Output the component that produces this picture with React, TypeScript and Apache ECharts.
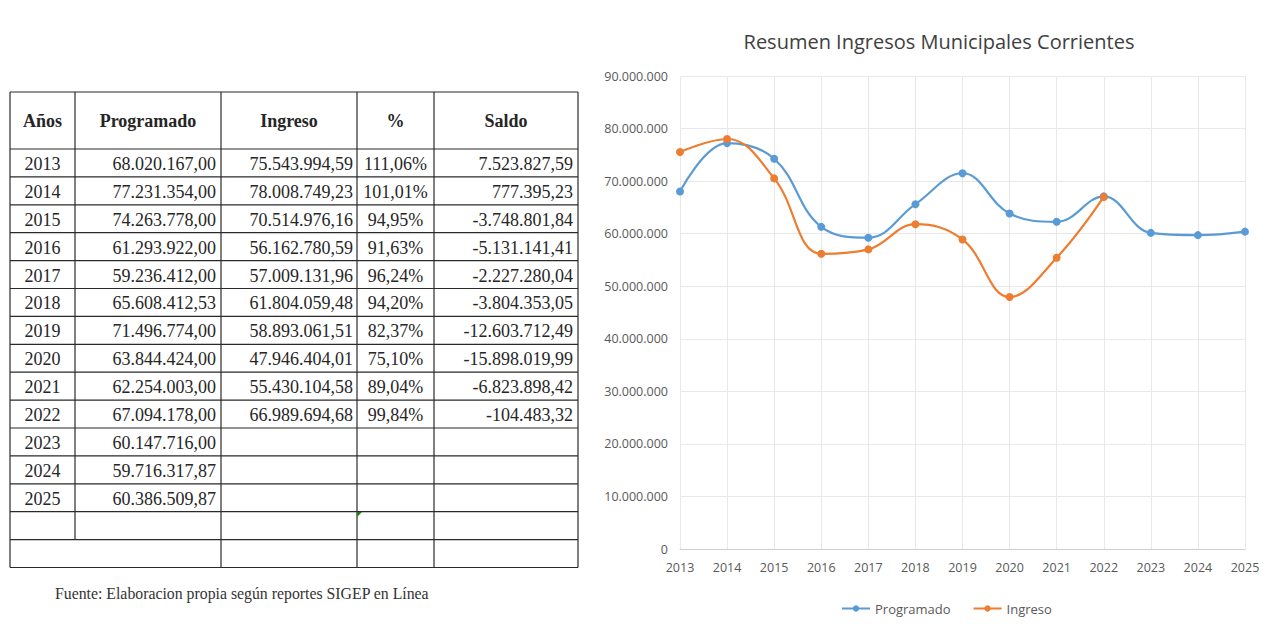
import React, { useEffect, useRef } from "react";
import * as echarts from "echarts";

const years = ["2013", "2014", "2015", "2016", "2017", "2018", "2019", "2020", "2021", "2022", "2023", "2024", "2025"];
const programado = [68020167.0, 77231354.0, 74263778.0, 61293922.0, 59236412.0, 65608412.53, 71496774.0, 63844424.0, 62254003.0, 67094178.0, 60147716.0, 59716317.87, 60386509.87];
const ingreso = [75543994.59, 78008749.23, 70514976.16, 56162780.59, 57009131.96, 61804059.48, 58893061.51, 47946404.01, 55430104.58, 66989694.68, null, null, null];
const pct = [111.06, 101.01, 94.95, 91.63, 96.24, 94.2, 82.37, 75.1, 89.04, 99.84, null, null, null];
const saldo = [7523827.59, 777395.23, -3748801.84, -5131141.41, -2227280.04, -3804353.05, -12603712.49, -15898019.99, -6823898.42, -104483.32, null, null, null];
const headers = ["Años", "Programado", "Ingreso", "%", "Saldo"];
const yTicks = [0, 10000000, 20000000, 30000000, 40000000, 50000000, 60000000, 70000000, 80000000, 90000000];
const chartTitle = "Resumen Ingresos Municipales Corrientes";
const footnote = "Fuente: Elaboracion propia según reportes SIGEP en Línea";

function fmt(v: number | null, dec: number): string {
  if (v === null || v === undefined) return "";
  const neg = v < 0;
  const s = Math.abs(v).toFixed(dec);
  const [ip, dp] = s.split(".");
  const withDots = ip.replace(/\B(?=(\d{3})+(?!\d))/g, ".");
  return (neg ? "-" : "") + withDots + (dec > 0 ? "," + dp : "");
}

export default function App() {
  const ref = useRef<HTMLDivElement>(null);
  useEffect(() => {
    if (!ref.current) return;
    const chart = echarts.init(ref.current, undefined, { renderer: "svg" });

    const colX = [10, 75, 221, 357, 434, 578];
    const top = 92;
    const headBottom = 149;
    const rowH = 27.9;
    const nRows = years.length + 2;
    const bottom = headBottom + nRows * rowH;
    const lineStyle = { stroke: "#2a2a2a", lineWidth: 1.2 };
    const g: any[] = [];
    const hy = [top, headBottom];
    for (let i = 1; i <= nRows; i++) hy.push(headBottom + i * rowH);
    hy.forEach((y) => g.push({ type: "line", shape: { x1: colX[0], y1: y, x2: colX[5], y2: y }, style: lineStyle, silent: true }));
    colX.forEach((x, i) => {
      const yEnd = i === 1 ? headBottom + (nRows - 1) * rowH : bottom;
      g.push({ type: "line", shape: { x1: x, y1: top, x2: x, y2: yEnd }, style: lineStyle, silent: true });
    });
    const font = "Liberation Serif";
    const txtColor = "#262626";
    headers.forEach((h, i) => {
      g.push({
        type: "text",
        x: (colX[i] + colX[i + 1]) / 2,
        y: (top + headBottom) / 2,
        style: { text: h, fontFamily: font, fontWeight: "bold", fontSize: 18, fill: txtColor, align: "center", verticalAlign: "middle" },
      });
    });
    years.forEach((yr, r) => {
      const cy = headBottom + r * rowH + rowH / 2 + 1;
      const cells = [
        { t: yr, x: (colX[0] + colX[1]) / 2, a: "center" },
        { t: fmt(programado[r], 2), x: colX[2] - 5, a: "right" },
        { t: fmt(ingreso[r], 2), x: colX[3] - 4, a: "right" },
        { t: pct[r] === null ? "" : fmt(pct[r], 2) + "%", x: (colX[3] + colX[4]) / 2, a: "center" },
        { t: fmt(saldo[r], 2), x: colX[5] - 5, a: "right" },
      ];
      cells.forEach((c) => {
        if (!c.t) return;
        g.push({
          type: "text",
          x: c.x,
          y: cy,
          style: { text: c.t, fontFamily: font, fontSize: 18, fill: txtColor, align: c.a, verticalAlign: "middle" },
        });
      });
    });
    g.push({
      type: "polygon",
      shape: { points: [[357, 512], [362, 512], [357, 517]] },
      style: { fill: "#1e7a1e" },
      silent: true,
    });
    g.push({
      type: "text",
      x: 55,
      y: 593,
      style: { text: footnote, fontFamily: font, fontSize: 15.8, fill: "#333", align: "left", verticalAlign: "middle" },
    });

    chart.setOption({
      animation: false,
      backgroundColor: "#ffffff",
      title: {
        text: chartTitle,
        left: 934,
        top: 26,
        textAlign: "center",
        textStyle: { fontFamily: "Open Sans", fontSize: 20, fontWeight: "normal", color: "#404040" },
      },
      legend: {
        data: ["Programado", "Ingreso"],
        left: 836,
        top: 597,
        itemWidth: 28,
        itemHeight: 8,
        itemGap: 22,
        textStyle: { fontFamily: "Open Sans", fontSize: 13, color: "#595959" },
      },
      grid: { left: 680, right: 34, top: 76, bottom: 81, containLabel: false },
      xAxis: {
        type: "category",
        data: years,
        boundaryGap: false,
        axisLine: { lineStyle: { color: "#d0d0d0" } },
        axisTick: { show: false },
        axisLabel: { fontFamily: "Open Sans", fontSize: 12.5, color: "#595959", margin: 12 },
        splitLine: { show: true, lineStyle: { color: "#e8e8e8" } },
      },
      yAxis: {
        type: "value",
        min: yTicks[0],
        max: yTicks[yTicks.length - 1],
        interval: yTicks[1] - yTicks[0],
        axisLine: { show: false },
        axisTick: { show: false },
        axisLabel: {
          fontFamily: "Open Sans",
          fontSize: 12.5,
          color: "#595959",
          margin: 12,
          formatter: (v: number) => fmt(v, 0),
        },
        splitLine: { lineStyle: { color: "#e8e8e8" } },
      },
      series: [
        {
          name: "Programado",
          type: "line",
          smooth: 0.4,
          data: programado,
          symbol: "circle",
          symbolSize: 8,
          itemStyle: { color: "#5B9BD5" },
          lineStyle: { width: 2.2, color: "#5B9BD5" },
        },
        {
          name: "Ingreso",
          type: "line",
          smooth: 0.4,
          data: ingreso,
          symbol: "circle",
          symbolSize: 8,
          itemStyle: { color: "#ED7D31" },
          lineStyle: { width: 2.2, color: "#ED7D31" },
        },
      ],
      graphic: g,
    });
    return () => chart.dispose();
  }, []);
  return <div ref={ref} style={{ position: "fixed", left: 0, top: 0, width: 1279, height: 630 }} />;
}
